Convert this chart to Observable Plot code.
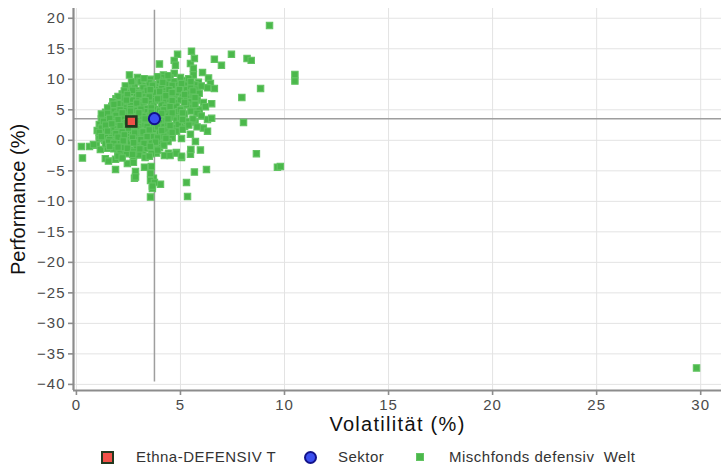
<!DOCTYPE html>
<html><head><meta charset="utf-8">
<script src="https://cdn.jsdelivr.net/npm/d3@7"></script>
<script src="https://cdn.jsdelivr.net/npm/@observablehq/plot@0.6"></script>
<style>
body{margin:0;background:#fff;font-family:"Liberation Sans",Arial,sans-serif;}
#chart svg{display:block;overflow:visible;}
g[aria-label="x-axis tick label"] text, g[aria-label="y-axis tick label"] text{letter-spacing:1px;}
.xtitle text{letter-spacing:1.3px;}
#legend{position:relative;width:721px;height:20px;font-size:15px;letter-spacing:0.5px;color:#333;}
#legend .k{position:absolute;box-sizing:border-box;}
#legend .t{position:absolute;top:2px;white-space:pre;}
</style>
</head><body>
<div id="chart"></div>
<div id="legend"></div>
<script>
// Labels
const xLabel = "Volatilität (%)";
const yLabel = "Performance (%)";
const legendNames = ["Ethna-DEFENSIV T", "Sektor", "Mischfonds defensiv  Welt"];
const xTicks = [0, 5, 10, 15, 20, 25, 30];
const yTicks = [20, 15, 10, 5, 0, -5, -10, -15, -20, -25, -30, -35, -40];

// Highlighted fund and sector average [volatility, performance]
const fund = [2.64, 3.1];
const sector = [3.75, 3.55];

// Peer funds [volatility, performance]
const peers = [
 [29.8,-37.3],[9.28,18.8],[10.5,10.8],[10.5,9.7],[8.2,13.4],[8.4,13.1],[7.45,14.1],[6.63,13.3],[6.97,12.3],[8.85,8.5],[7.95,7.0],[8.03,2.9],[8.65,-2.2],[9.66,-4.4],[9.8,-4.3],
 [6.3,3.4],[6.1,2.0],[6.3,1.5],[5.7,3.0],[5.96,-1.6],[5.48,-2.3],[5.5,-1.5],[5.05,-2.8],[4.8,-2.0],[4.42,-2.1],[4.23,-2.5],[3.85,-2.1],[6.25,-4.8],[5.67,-5.2],[5.29,-6.9],[5.34,-9.2],[3.56,-9.3],[4.04,-7.2],[3.65,-7.9],[3.7,-6.2],[5.72,-0.2],[5.48,1.0],[5.2,2.3],[5.05,0.3],
 [0.24,-1.0],[0.29,-2.9],[0.63,-1.0],[0.96,-0.8],[0.82,-0.7],[1.15,-1.5],[1.39,-3.0],[1.54,-3.4],[1.88,-4.8],[1.88,-3.1],[2.45,-3.8],[2.79,-6.2],[2.84,-5.1],[2.84,-6.0],[3.27,-4.4],[3.6,-4.3],[3.56,-5.4],[3.56,-6.6],[3.75,-6.9],[3.65,-7.5],[4.5,-2.5],[2.74,-3.6],[2.74,-2.6],[2.0,-2.3],[1.5,-1.3],[1.35,0],[1.1,0.3],[4.8,-2.1],[5.05,-2.6],
 [2.55,10.7],[2.93,10.3],[3.03,9.7],[3.56,10.0],[3.99,12.5],[4.86,14.1],[4.7,13.1],[4.76,12.3],[2.07,6.1],[2.26,4.9],[1.3,3.9],[1.54,3.3],[4.7,11.0],[4.18,10.7],
 [5.53,14.6],[5.48,12.6],[5.67,13.4],[5.62,11.8],[5.62,10.7],[6.06,11.1],[6.35,10.2],[6.44,9.3],[6.63,8.5],[4.18,10.3],[5.1,9.8],[5.86,9.5],
 [2.7,9.2],[3.1,9.6],[3.3,8.9],[3.5,9.4],[3.8,9.1],[4.0,9.8],[4.3,9.3],[4.5,10.2],[4.7,9.6],[4.9,9.0],[5.2,9.4],[5.4,10.1],[5.7,9.1],[3.9,10.4],[4.4,10.6],[5.0,10.3],
 [2.5,8.4],[2.8,8.7],[3.0,8.1],[3.2,8.6],[3.4,8.2],[3.7,8.8],[3.9,8.3],[4.1,8.7],[4.3,8.1],[4.6,8.5],[4.8,8.0],[5.0,8.7],[5.3,8.3],[5.5,8.8],[5.8,8.4],[6.0,8.9],[2.9,7.8],
 [2.2,7.6],[2.4,7.2],[2.6,7.8],[2.9,7.3],[3.1,7.7],[3.3,7.1],[3.6,7.5],[3.8,7.9],[4.0,7.2],[4.2,7.6],[4.4,7.0],[4.7,7.4],[4.9,7.8],[5.1,7.1],[5.4,7.6],[5.6,7.2],[5.9,7.7],[6.3,8.6],
 [1.9,6.8],[2.1,6.4],[2.3,6.9],[2.5,6.2],[2.7,6.6],[3.0,6.9],[3.2,6.3],[3.4,6.7],[3.6,6.1],[3.8,6.5],[4.1,6.9],[4.3,6.3],[4.5,6.7],[4.8,6.2],[5.0,6.6],[5.3,6.9],[5.5,6.3],[5.8,6.6],[6.1,6.2],[6.5,6.0],
 [1.7,5.6],[1.9,5.2],[2.2,5.8],[2.4,5.3],[2.6,5.7],[2.8,5.1],[3.0,5.5],[3.2,5.9],[3.4,5.2],[3.7,5.6],[3.9,5.1],[4.1,5.8],[4.3,5.4],[4.6,5.0],[4.8,5.6],[5.1,5.2],[5.3,5.8],[5.6,5.4],[5.9,5.0],[6.2,5.5],
 [1.4,4.6],[1.6,4.2],[1.8,4.8],[2.0,4.4],[2.3,4.9],[2.5,4.1],[2.7,4.5],[2.9,4.9],[3.1,4.3],[3.3,4.7],[3.5,4.0],[3.8,4.4],[4.0,4.8],[4.2,4.2],[4.4,4.6],[4.7,4.1],[4.9,4.7],[5.2,4.3],[5.5,4.8],[5.8,4.4],[6.0,4.0],
 [1.2,3.5],[1.5,3.9],[1.7,3.2],[1.9,3.6],[2.1,3.1],[2.3,3.8],[2.5,3.4],[2.8,3.7],[3.0,3.2],[3.2,3.9],[3.4,3.3],[3.6,3.7],[3.9,3.1],[4.1,3.6],[4.3,3.2],[4.6,3.8],[4.8,3.3],[5.0,3.7],[5.3,3.1],[5.6,3.5],[6.5,3.6],
 [1.1,2.6],[1.3,2.2],[1.5,2.8],[1.8,2.3],[2.0,2.7],[2.2,2.1],[2.4,2.9],[2.6,2.4],[2.9,2.8],[3.1,2.2],[3.3,2.6],[3.5,2.0],[3.7,2.5],[4.0,2.9],[4.2,2.3],[4.4,2.7],[4.7,2.1],[4.9,2.6],[5.4,2.5],[5.8,2.2],
 [1.0,1.6],[1.2,1.2],[1.4,1.8],[1.6,1.3],[1.8,1.9],[2.0,1.4],[2.3,1.7],[2.5,1.1],[2.7,1.5],[2.9,1.9],[3.1,1.2],[3.3,1.6],[3.6,1.1],[3.8,1.8],[4.0,1.3],[4.3,1.7],[4.5,1.0],[4.8,1.5],[5.1,1.8],
 [1.1,0.7],[1.3,0.3],[1.5,0.9],[1.7,0.4],[1.9,0.8],[2.1,0.2],[2.4,0.6],[2.6,0.1],[2.8,0.9],[3.0,0.4],[3.2,0.8],[3.5,0.2],[3.7,0.6],[4.0,0.1],[4.2,0.7],[4.6,0.4],
 [1.4,-0.6],[1.7,-0.2],[1.9,-0.8],[2.1,-0.4],[2.4,-0.9],[2.6,-0.3],[2.9,-0.7],[3.1,-0.2],[3.4,-0.8],[3.6,-0.4],[3.9,-0.9],[4.1,-0.5],[4.4,-0.2],
 [1.8,-1.4],[2.1,-1.8],[2.3,-1.2],[2.6,-1.6],[2.9,-1.1],[3.2,-1.7],[3.4,-1.3],[3.7,-1.5],[4.0,-1.2],[2.0,-2.6],[2.4,-2.2],[3.0,-2.4],[3.3,-2.8],[3.6,-2.2],
 [2.35,8.9],[2.65,9.6],[3.25,10.1],[3.65,9.0],[4.15,9.5],[4.6,9.0],[5.05,9.3],[5.5,9.6],
 [2.3,8.1],[2.7,8.2],[3.55,8.3],[4.0,8.0],[4.45,8.3],[4.95,8.3],[5.6,8.1],
 [2.0,7.2],[2.45,7.5],[3.0,7.5],[3.5,7.1],[4.3,7.3],[4.6,7.8],[5.2,7.5],[5.7,7.0],
 [1.75,6.3],[2.0,6.0],[2.4,6.6],[2.9,6.1],[3.3,6.5],[3.9,6.8],[4.6,6.5],[5.2,6.2],[5.7,5.9],
 [1.5,5.3],[1.8,5.9],[2.1,5.0],[2.6,5.2],[3.1,5.1],[3.6,5.3],[4.2,5.0],[4.5,5.5],[5.0,5.0],
 [1.2,4.3],[1.5,4.4],[1.9,4.1],[2.2,4.5],[2.6,4.8],[3.0,4.5],[3.6,4.6],[4.1,4.4],[4.6,4.5],[5.1,4.5],
 [1.3,3.1],[1.6,3.6],[2.0,3.4],[2.7,3.0],[3.3,3.5],[3.8,3.4],[4.4,3.5],[5.1,3.4],
 [1.2,2.0],[1.4,2.5],[1.7,2.7],[2.1,2.4],[2.5,2.0],[2.8,2.5],[3.4,2.3],[3.9,2.2],[4.5,2.4],
 [1.1,1.3],[1.5,1.5],[1.9,1.1],[2.2,1.4],[2.8,1.2],[3.2,1.4],[3.5,1.7],[4.1,1.6],[4.6,1.3],
 [1.2,0.6],[1.6,0.1],[2.0,0.5],[2.3,0.9],[2.7,0.4],[3.1,0.1],[3.4,0.6],[3.9,0.4],[4.3,0.3],
 [1.55,-0.3],[1.8,-0.5],[2.25,-0.1],[2.75,-0.4],[3.25,-0.5],[3.8,-0.3],[4.2,-0.8],
 [1.6,-1.0],[2.0,-1.1],[2.45,-1.3],[2.75,-1.9],[3.05,-1.4],[3.55,-1.0],[3.9,-1.6],[2.2,-2.9],[2.7,-2.3],[3.5,-2.6]
];

const xDomain = [-0.14, 31.0];
const yDomain = [-41, 21.6];
const axisGrey = "#8c8c8c";

const chart = Plot.plot({
  width: 721, height: 446,
  marginLeft: 73, marginRight: 0, marginTop: 8, marginBottom: 56,
  x: {domain: xDomain},
  y: {domain: yDomain},
  style: {fontFamily: "'Liberation Sans', Arial, sans-serif", background: "#fff"},
  marks: [
    Plot.gridX(xTicks, {stroke: "#e3e3e3", strokeOpacity: 1, strokeWidth: 1}),
    Plot.gridY(yTicks, {stroke: "#e3e3e3", strokeOpacity: 1, strokeWidth: 1}),
    Plot.ruleX([sector[0]], {stroke: "#9e9e9e", strokeWidth: 1.5, y1: yDomain[1] - 0.3, y2: -39.6}),
    Plot.ruleY([sector[1]], {stroke: "#9e9e9e", strokeWidth: 1.5}),
    Plot.dot(peers, {x: d => d[0], y: d => d[1], symbol: "square", r: 3.6, fill: "#4bb84b", stroke: "#62c462", strokeWidth: 1.1}),
    Plot.dot([fund], {x: d => d[0], y: d => d[1], symbol: "square", r: 5.6, fill: "#ef5148", stroke: "#22391f", strokeWidth: 2.6}),
    Plot.dot([sector], {x: d => d[0], y: d => d[1], r: 5.6, fill: "#3b4ff0", stroke: "#12128a", strokeWidth: 2}),
    Plot.ruleX([xDomain[0]], {stroke: axisGrey, strokeWidth: 2.2}),
    Plot.ruleY([yDomain[0]], {stroke: axisGrey, strokeWidth: 2.2}),
    Plot.axisX(xTicks, {tickSize: 5, tickPadding: 4, stroke: axisGrey, strokeWidth: 1.6, fontSize: 15, fill: "#4a4a4a", label: null}),
    Plot.axisY(yTicks, {tickSize: 5, tickPadding: 3, stroke: axisGrey, strokeWidth: 1.6, fontSize: 15, fill: "#4a4a4a", label: null}),
    Plot.text([xLabel], {frameAnchor: "bottom", dy: 40, fontSize: 20, fill: "#111", textAnchor: "middle", className: "xtitle"}),
    Plot.text([yLabel], {frameAnchor: "left", dx: -55, rotate: -90, fontSize: 20, fill: "#111", textAnchor: "middle"})
  ]
});
document.getElementById("chart").appendChild(chart);

// Legend
const lg = document.getElementById("legend");
const keys = [
  {left: 101, w: 13, h: 13, style: "background:#ef5148;border:2.5px solid #22391f;"},
  {left: 304, w: 13, h: 13, style: "background:#3b4ff0;border:2px solid #12128a;border-radius:50%;"},
  {left: 416, w: 8, h: 8, style: "background:#4bb84b;border:1.5px solid #62c462;"}
];
const textLeft = [136, 338, 449];
keys.forEach((k, i) => {
  const s = document.createElement("div");
  s.className = "k";
  s.style.cssText = `left:${k.left}px;width:${k.w}px;height:${k.h}px;top:${11 - k.h/2}px;` + k.style;
  lg.appendChild(s);
  const t = document.createElement("div");
  t.className = "t";
  t.style.left = textLeft[i] + "px";
  t.textContent = legendNames[i];
  lg.appendChild(t);
});
</script>
</body></html>
